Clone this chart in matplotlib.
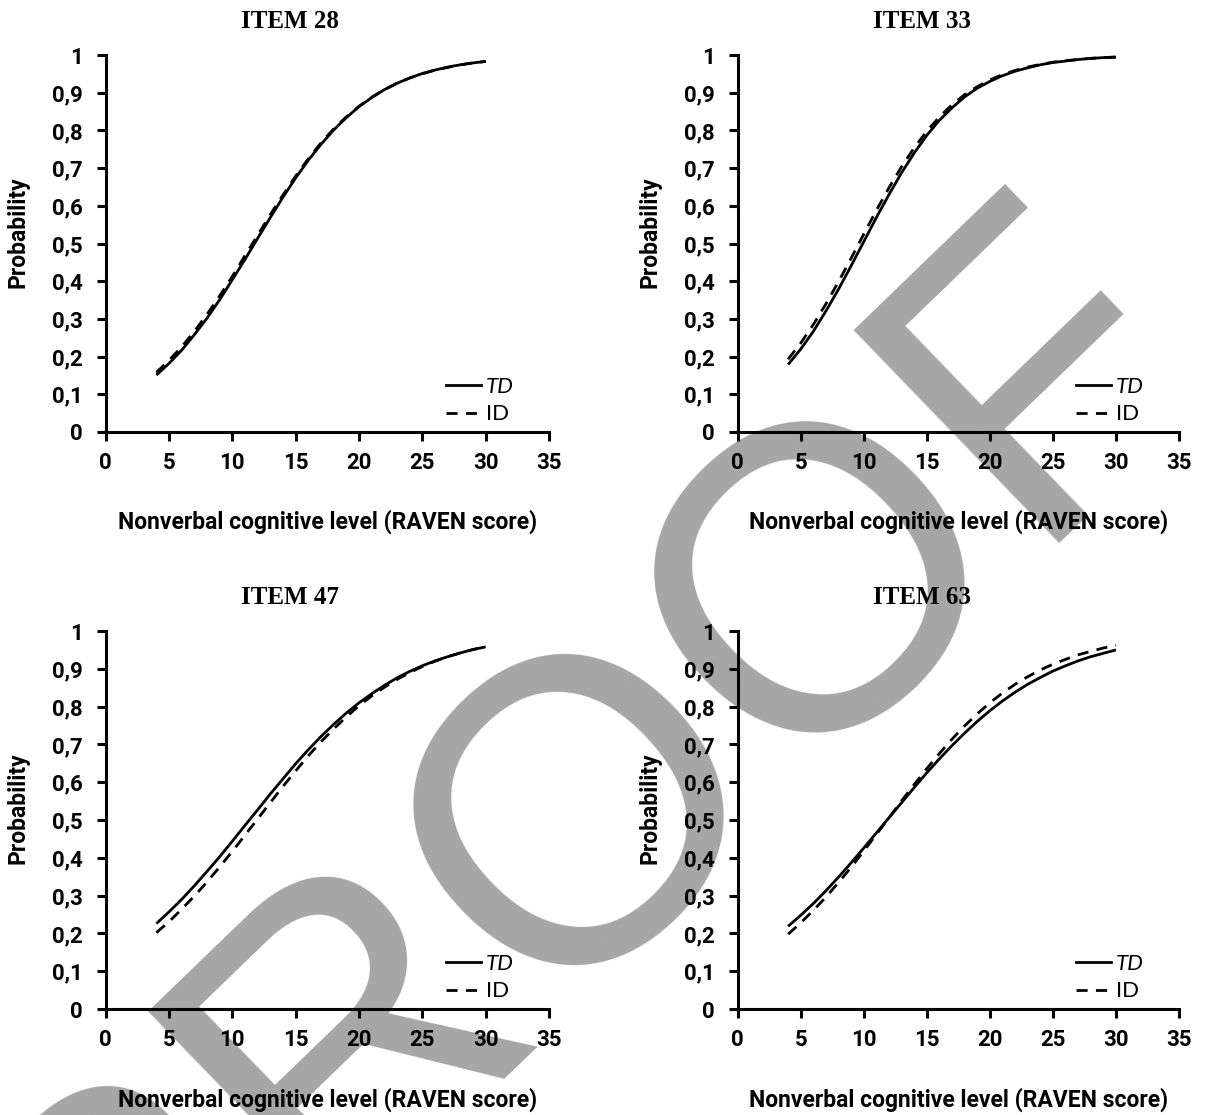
import matplotlib
matplotlib.use("Agg")
import matplotlib.pyplot as plt
from matplotlib.lines import Line2D
from matplotlib.ticker import FuncFormatter

# RAVEN score grid the curves were read at
raven = [4, 5, 6, 7, 8, 9, 10, 11, 12, 13, 14, 15, 16, 17, 18, 19, 20,
         21, 22, 23, 24, 25, 26, 27, 28, 29, 30]

item28_td = [0.151, 0.182, 0.217, 0.258, 0.302, 0.351, 0.404, 0.458, 0.514,
             0.569, 0.623, 0.674, 0.721, 0.763, 0.801, 0.834, 0.863, 0.887,
             0.908, 0.925, 0.939, 0.951, 0.960, 0.968, 0.974, 0.979, 0.983]
item28_id = [0.158, 0.190, 0.226, 0.267, 0.312, 0.361, 0.413, 0.468, 0.522,
             0.577, 0.629, 0.679, 0.725, 0.767, 0.804, 0.836, 0.864, 0.888,
             0.908, 0.925, 0.939, 0.950, 0.960, 0.967, 0.974, 0.979, 0.983]

item33_td = [0.179, 0.220, 0.267, 0.321, 0.379, 0.441, 0.505, 0.569, 0.630,
             0.688, 0.740, 0.787, 0.827, 0.860, 0.889, 0.912, 0.930, 0.945,
             0.957, 0.966, 0.974, 0.980, 0.984, 0.988, 0.991, 0.993, 0.994]
item33_id = [0.193, 0.236, 0.285, 0.340, 0.399, 0.461, 0.525, 0.588, 0.648,
             0.704, 0.754, 0.798, 0.836, 0.868, 0.895, 0.916, 0.934, 0.948,
             0.959, 0.968, 0.975, 0.981, 0.985, 0.988, 0.991, 0.993, 0.995]

item47_td = [0.226, 0.257, 0.290, 0.326, 0.364, 0.403, 0.444, 0.486, 0.527,
             0.569, 0.609, 0.649, 0.686, 0.721, 0.753, 0.783, 0.810, 0.834,
             0.856, 0.876, 0.893, 0.908, 0.921, 0.932, 0.942, 0.951, 0.958]
item47_id = [0.202, 0.231, 0.264, 0.299, 0.336, 0.376, 0.417, 0.460, 0.503,
             0.546, 0.589, 0.630, 0.670, 0.707, 0.741, 0.773, 0.802, 0.828,
             0.851, 0.872, 0.890, 0.906, 0.920, 0.932, 0.942, 0.951, 0.958]

item63_td = [0.219, 0.248, 0.279, 0.313, 0.349, 0.387, 0.426, 0.466, 0.506,
             0.546, 0.586, 0.625, 0.662, 0.697, 0.730, 0.761, 0.789, 0.815,
             0.838, 0.859, 0.877, 0.894, 0.908, 0.921, 0.932, 0.941, 0.950]
item63_id = [0.198, 0.228, 0.261, 0.296, 0.335, 0.375, 0.418, 0.462, 0.506,
             0.551, 0.594, 0.636, 0.676, 0.714, 0.749, 0.781, 0.810, 0.836,
             0.859, 0.879, 0.897, 0.912, 0.925, 0.937, 0.946, 0.955, 0.962]

titles = ["ITEM 28", "ITEM 33", "ITEM 47", "ITEM 63"]
x_ticks = [0, 5, 10, 15, 20, 25, 30, 35]
y_ticks = [0, 0.1, 0.2, 0.3, 0.4, 0.5, 0.6, 0.7, 0.8, 0.9, 1]

W, H = 1205, 1115
plt.rcParams["font.family"] = ["Roboto", "DejaVu Sans"]

fig = plt.figure(figsize=(W / 100, H / 100), dpi=100)

# gray "PROOF" watermark behind everything
fig.text(664 / W, 1 - 891 / H, "PROOF", family="Liberation Sans", fontsize=310,
         color="#a6a6a6", rotation=44, rotation_mode="anchor",
         ha="center", va="baseline", zorder=-5)


def px_axes(left, right, top, bottom):
    return fig.add_axes([left / W, 1 - bottom / H, (right - left) / W, (bottom - top) / H])


def comma(v, _pos):
    s = f"{v:.1f}".rstrip("0").rstrip(".")
    return s.replace(".", ",")


boxes = [(105.7, 549, 55, 432), (737.7, 1179, 55, 432),
         (105.7, 549, 631, 1009), (737.7, 1179, 631, 1009)]
title_pos = [(290, 22), (922, 22), (290, 598), (922, 598)]
series = [(item28_td, item28_id), (item33_td, item33_id),
          (item47_td, item47_id), (item63_td, item63_id)]

for box, title, tp, (td, idv) in zip(boxes, titles, title_pos, series):
    ax = px_axes(*box)
    ax.patch.set_facecolor("none")
    ax.plot(raven, td, color="black", lw=2.0, solid_capstyle="butt")
    ax.plot(raven, idv, color="black", lw=2.0, dashes=(4, 3))
    ax.set_xlim(0, 35)
    ax.set_ylim(0, 1)
    ax.set_xticks(x_ticks)
    ax.set_yticks(y_ticks)
    ax.yaxis.set_major_formatter(FuncFormatter(comma))
    for s in ("top", "right"):
        ax.spines[s].set_visible(False)
    for s in ("left", "bottom"):
        ax.spines[s].set_linewidth(2.2)
    ax.tick_params(direction="out", length=6.5, width=2.2, labelsize=16, pad=8)
    ax.tick_params(axis="y", pad=10)
    for lab in ax.get_xticklabels() + ax.get_yticklabels():
        lab.set_fontweight("bold")
    ax.set_xlabel("Nonverbal cognitive level (RAVEN score)", fontsize=16.5,
                  fontweight="bold")
    ax.set_ylabel("Probability", fontsize=16.5, fontweight="bold")
    ax.xaxis.set_label_coords(0.5, -0.207)
    ax.yaxis.set_label_coords(-0.172, 0.53)

    handles = [Line2D([], [], color="black", lw=2.0),
               Line2D([], [], color="black", lw=2.0, dashes=(4, 3))]
    leg = ax.legend(handles, ["TD", "ID"], loc="lower right",
                    bbox_to_anchor=(0.92, 0.02), frameon=False,
                    prop={"family": ["Lato", "DejaVu Sans"], "size": 16},
                    handlelength=1.6, handletextpad=0.2, labelspacing=0.35,
                    borderpad=0, borderaxespad=0)
    leg.get_texts()[0].set_style("italic")

    fig.text(tp[0] / W, 1 - tp[1] / H, title, family="Liberation Serif",
             fontsize=18, fontweight="bold", ha="center", va="center")

fig.savefig("out.png", dpi=100)
